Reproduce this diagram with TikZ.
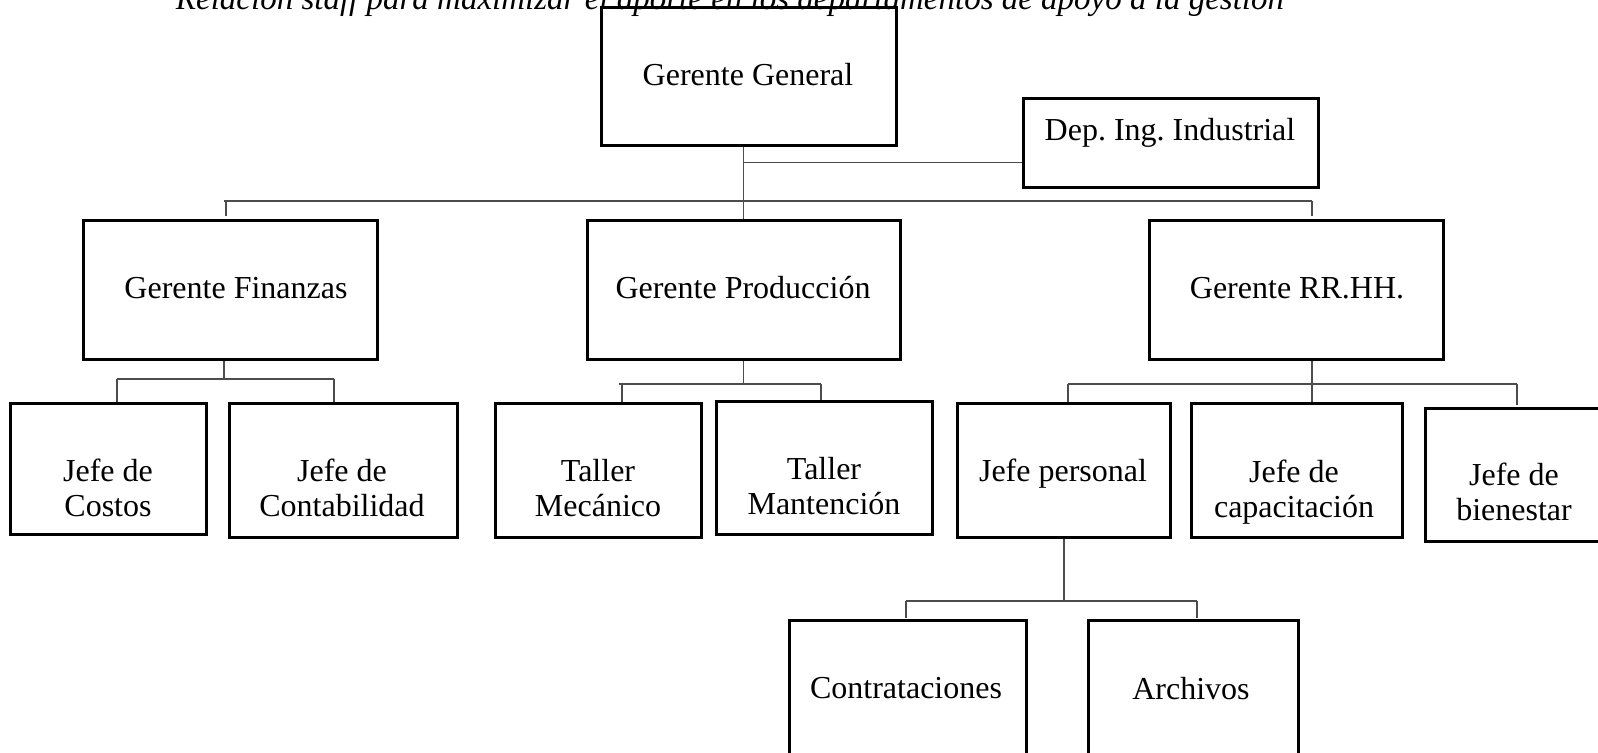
\documentclass[tikz,border=0pt]{standalone}
\usepackage{fontspec}
\setmainfont{Liberation Serif}
\usetikzlibrary{fit}
\frenchspacing
\begin{document}
\frenchspacing
\begin{tikzpicture}[x=0.5pt,y=-0.5pt,
  box/.style={draw, line width=1.5pt, inner sep=0pt},
  conn/.style={draw=black!70, line width=0.9pt},
  lbl/.style={font=\fontsize{16}{17.5}\selectfont, align=center, inner sep=0pt}]
\useasboundingbox (0,0) rectangle (1598,752);
\clip (0,0) rectangle (1598,752);
% title
\node[font=\fontsize{16.5}{19}\selectfont\itshape, anchor=base, inner sep=0pt] (title) at (730,9)
  {Relación staff para maximizar el aporte en los departamentos de apoyo a la gestión};
% boxes
\node[box, fit={(601,7) (896,145)}] (gg) {};
\node[lbl] (tgg) at (748,75) {Gerente General};
\node[box, fit={(1023,98) (1318,187)}] (dep) {};
\node[lbl] (tdep) at (1170,133) {Dep. Ing. Industrial};
\node[box, fit={(83,220) (377,359)}] (gf) {};
\node[lbl] (tgf) at (236,288) {Gerente Finanzas};
\node[box, fit={(587,220) (900,359)}] (gp) {};
\node[lbl] (tgp) at (743,288) {Gerente Producción};
\node[box, fit={(1149,220) (1443,359)}] (gr) {};
\node[lbl] (tgr) at (1297,288) {Gerente RR.HH.};
\node[box, fit={(10,403) (206,534)}] (jc) {};
\node[lbl] (tjc) at (108,488) {Jefe de\\Costos};
\node[box, fit={(229,403) (457,537)}] (jct) {};
\node[lbl] (tjct) at (342,488) {Jefe de\\Contabilidad};
\node[box, fit={(495,403) (701,537)}] (tm) {};
\node[lbl] (ttm) at (598,488) {Taller\\Mecánico};
\node[box, fit={(716,401) (932,534)}] (tmt) {};
\node[lbl] (ttmt) at (824,486) {Taller\\Mantención};
\node[box, fit={(957,403) (1170,537)}] (jp) {};
\node[lbl] (tjp) at (1063,474) {Jefe personal};
\node[box, fit={(1191,403) (1402,537)}] (jcap) {};
\node[lbl] (tjcap) at (1294,492) {Jefe de\\capacitación};
\node[box, fit={(1425,408) (1640,541)}] (jb) {};
\node[lbl] (tjb) at (1514,492) {Jefe de\\bienestar};
\node[box, fit={(789,620) (1026,780)}] (ct) {};
\node[lbl] (tct) at (906,688) {Contrataciones};
\node[box, fit={(1088,620) (1298,780)}] (ar) {};
\node[lbl] (tar) at (1191,689) {Archivos};
% top connectors
\draw[conn] (gp.north |- gg.south) -- (gp.north);
\coordinate (dj) at ([yshift=-10pt]dep.west);
\draw[conn] (dj) -- (dj -| gp.north);
\coordinate (busL) at (224,201);
\coordinate (busR) at (1312,201);
\coordinate (tkL) at (226,216);
\coordinate (tkR) at (1312,216);
\draw[conn] (busL) -- (busR);
\draw[conn] (tkL |- busL) -- (tkL);
\draw[conn] (busR) -- (tkR);
% finanzas
\coordinate (fb) at (224,378);
\coordinate (fL) at (117,379);
\coordinate (fR) at (334,379);
\draw[conn] (fb |- gf.south) -- (fb);
\draw[conn] (fL) -- (fR);
\draw[conn] (fL) -- (fL |- jc.north);
\draw[conn] (fR) -- (fR |- jct.north);
% produccion
\coordinate (pL) at (619,384);
\coordinate (pR) at (821,384);
\coordinate (pT) at (622,384);
\draw[conn] (gp.south) -- (gp.south |- pL);
\draw[conn] (pL) -- (pR);
\draw[conn] (pT) -- (pT |- tm.north);
\draw[conn] (pR) -- (pR |- tmt.north);
% rrhh
\coordinate (rL) at (1068,384);
\coordinate (rR) at (1517,384);
\coordinate (rc) at (1312,384);
\coordinate (rRe) at (1517,405);
\draw[conn] (rc |- gr.south) -- (rc |- jcap.north);
\draw[conn] (rL) -- (rR);
\draw[conn] (rL) -- (rL |- jp.north);
\draw[conn] (rR) -- (rRe);
% jefe personal
\coordinate (sL) at (906,601);
\coordinate (sR) at (1197,601);
\coordinate (sc) at (1064,601);
\coordinate (sLe) at (906,618);
\coordinate (sRe) at (1197,618);
\draw[conn] (sc |- jp.south) -- (sc);
\draw[conn] (sL) -- (sR);
\draw[conn] (sL) -- (sLe);
\draw[conn] (sR) -- (sRe);
\end{tikzpicture}
\end{document}
